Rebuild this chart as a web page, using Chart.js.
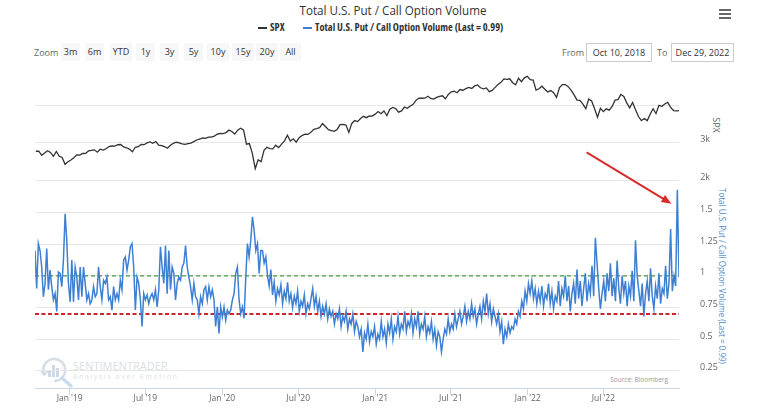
<!DOCTYPE html>
<html>
<head>
<meta charset="utf-8">
<script src="https://cdn.jsdelivr.net/npm/chart.js@4.4.1/dist/chart.umd.min.js"></script>
<style>
  html, body { margin: 0; padding: 0; background: #fff; }
  #wrap { position: relative; width: 758px; height: 415px; overflow: hidden; font-family: "Open Sans", sans-serif; }
  #chart { position: absolute; left: 0; top: 0; z-index: 2; }
  .abs { position: absolute; white-space: nowrap; }
  .cond { font-family: "Open Sans", "Liberation Sans Narrow", "DejaVu Sans Condensed", sans-serif; font-stretch: 87.5%; }
  .btn { position: absolute; top: 43px; height: 18px; line-height: 18px; background: #f7f7f7; color: #333; font-size: 9px; text-align: center; }
  .box { position: absolute; top: 43px; height: 17px; line-height: 17px; border: 1px solid #ccc; color: #333; font-size: 9px; text-align: center; }
  .bar { position: absolute; left: 719px; width: 12px; height: 2px; background: #666; }
  .vtitle { position: absolute; writing-mode: vertical-rl; white-space: nowrap; }
</style>
</head>
<body>
<div id="wrap">
  <div id="mainTitle" class="abs" style="left:393px; top:2px; transform:translateX(-50%); font-size:12.5px; color:#333;">Total U.S. Put / Call Option Volume</div>

  <!-- legende -->
  <div class="abs" style="left:258px; top:27px; width:9px; height:2px; background:#333;"></div>
  <div class="abs cond" style="left:270px; top:20px; font-size:10.4px; font-weight:bold; color:#333;">SPX</div>
  <div class="abs" style="left:303px; top:27px; width:9px; height:2px; background:#3d80d3;"></div>
  <div class="abs cond" style="left:315px; top:20px; font-size:10.4px; font-weight:bold; color:#333;">Total U.S. Put / Call Option Volume (Last = 0.99)</div>

  <div class="bar" style="top:9px;"></div>
  <div class="bar" style="top:13px;"></div>
  <div class="bar" style="top:17px;"></div>

  <!-- barre de zoom -->
  <div class="abs" style="left:34px; top:46px; font-size:9px; color:#666;">Zoom</div>
  <div id="zoomBtns"></div>
  <div class="abs" style="left:562px; top:46px; font-size:9px; color:#666;">From</div>
  <div class="box" style="left:586px; width:64px;">Oct 10, 2018</div>
  <div class="abs" style="left:657px; top:46px; font-size:9px; color:#666;">To</div>
  <div class="box" style="left:671px; width:61px;">Dec 29, 2022</div>

  <!-- filigrane -->
  <svg class="abs" style="left:40px; top:356px;" width="36" height="32" viewBox="0 0 36 32">
    <path d="M4 18 A11 11 0 1 1 14 25" fill="none" stroke="#d6dde4" stroke-width="2.5"/>
    <path d="M1 15 L4 19 L8 15" fill="none" stroke="#d6dde4" stroke-width="2"/>
    <rect x="8" y="14" width="3" height="7" fill="#cfd9e3"/>
    <rect x="12" y="9" width="3" height="12" fill="#cfd9e3"/>
    <rect x="16" y="12" width="3" height="9" fill="#cfd9e3"/>
    <line x1="22" y1="22" x2="31" y2="30" stroke="#c8dcee" stroke-width="3.5" stroke-linecap="round"/>
  </svg>
  <div class="abs" style="left:73px; top:358px; font-size:11px; color:#d8dfe6;">SENTIMENTRADER</div>
  <div class="abs" style="left:73px; top:372px; font-size:7px; color:#dbe2e9; letter-spacing:1.6px;">Analysis over Emotion</div>
  <div class="abs" style="left:668px; top:375px; transform:translateX(-100%); font-size:6.5px; color:#999;">Source: Bloomberg</div>

  <!-- titres des axes -->
  <div class="vtitle" style="left:716px; top:125px; transform:translate(-50%, -50%); font-size:9px; color:#666;">SPX</div>
  <div id="pcTitle" class="vtitle" style="left:722px; top:276px; transform:translate(-50%, -50%); font-size:9.5px; color:#4f87c4;">Total U.S. Put / Call Option Volume (Last = 0.99)</div>

  <canvas id="chart" width="758" height="415"></canvas>
</div>

<script>
// Donnees
const zoomLabels = ['3m', '6m', 'YTD', '1y', '3y', '5y', '10y', '15y', '20y', 'All'];
const xTickDates = [[2019, 1, 1], [2019, 7, 1], [2020, 1, 1], [2020, 7, 1], [2021, 1, 1], [2021, 7, 1], [2022, 1, 1], [2022, 7, 1]];
const xTickLabels = ["Jan '19", "Jul '19", "Jan '20", "Jul '20", "Jan '21", "Jul '21", "Jan '22", "Jul '22"];
const spxTicks = [2000, 3000, 4000];
const spxTickLabels = ['2k', '3k', ''];
const pcTicks = [0.25, 0.5, 0.75, 1, 1.25, 1.5];
const pcTickLabels = ['0.25', '0.5', '0.75', '1', '1.25', '1.5'];
const greenLevel = 1.0;
const redLevel = 0.70;

// SPX, cloture hebdo (vendredis) du 12 oct 2018 au 29 dec 2022
const spx2018 = [2767, 2768, 2659, 2723, 2781, 2736, 2633, 2760, 2633, 2600, 2417, 2486];
const spx2019 = [2532, 2596, 2671, 2665, 2707, 2708, 2776, 2793, 2804, 2743, 2822, 2800, 2834,
  2893, 2907, 2905, 2940, 2946, 2881, 2860, 2826, 2752, 2873, 2887, 2950, 2942,
  2990, 3014, 2977, 3026, 2932, 2919, 2889, 2847, 2926, 2979, 3007, 2992, 2962,
  2952, 2970, 2986, 3023, 3067, 3093, 3120, 3110, 3141, 3146, 3169, 3221, 3240];
const spx2020 = [3235, 3265, 3330, 3295, 3226, 3328, 3380, 3338, 2954, 2972, 2711, 2305, 2541,
  2489, 2790, 2875, 2837, 2831, 2930, 2864, 2955, 3044, 3194, 3041, 3098, 3009,
  3130, 3185, 3225, 3216, 3271, 3351, 3373, 3397, 3508, 3427, 3341, 3319, 3298,
  3348, 3477, 3483, 3465, 3270, 3509, 3585, 3557, 3638, 3699, 3663, 3709, 3703];
const spx2021 = [3756, 3825, 3768, 3841, 3714, 3887, 3934, 3907, 3811, 3842, 3943, 3913, 3975,
  4020, 4129, 4185, 4180, 4181, 4233, 4174, 4156, 4204, 4230, 4247, 4166, 4281,
  4352, 4370, 4327, 4412, 4395, 4437, 4468, 4442, 4509, 4535, 4459, 4433, 4455,
  4357, 4391, 4471, 4545, 4605, 4697, 4682, 4698, 4595, 4538, 4712, 4620, 4725, 4766];
const spx2022 = [4677, 4663, 4398, 4432, 4501, 4419, 4349, 4385, 4329, 4204, 4463, 4543,
  4546, 4488, 4392, 4272, 4132, 4123, 4024, 3901, 4158, 4109, 3901, 3675, 3912,
  3825, 3899, 3863, 3962, 4130, 4145, 4280, 4228, 4058, 3924, 4067, 3873, 3693, 3586,
  3640, 3583, 3753, 3901, 3771, 3993, 3965, 4026, 4072, 3934, 3852, 3845, 3849];

// Put/Call, un point tous les ~4 jours du 10 oct 2018 au 29 dec 2022
const pcPart1 = [1.20, 0.90, 1.255, 1.20, 1.07, 0.835, 0.94, 1.215, 0.89, 1.045,
  0.915, 0.81, 0.86, 0.72, 1.03, 1.02, 0.915, 1.125, 1.49, 1.28,
  0.94, 0.795, 1.125, 0.795, 1.07, 0.99, 0.81, 1.07, 0.835, 1.07,
  0.94, 0.81, 0.86, 0.78, 0.81, 0.915, 0.835, 0.86, 1.07, 0.915,
  0.81, 0.965, 0.94, 0.99, 0.81, 0.835, 0.73, 0.915, 0.81, 0.86,
  0.81, 0.965, 0.89, 1.125, 1.15, 1.045, 1.125, 1.23, 1.255, 1.07,
  0.73, 0.99, 0.94, 0.81, 0.60, 0.86, 0.81, 0.85, 0.78, 0.835];
const pcPart2 = [0.86, 0.81, 0.89, 0.755, 0.89, 1.23, 1.07, 0.94, 1.24, 0.86,
  1.20, 0.89, 1.07, 1.02, 0.81, 0.94, 0.99, 0.965, 1.07, 1.10,
  1.24, 1.07, 0.99, 0.915, 0.81, 0.94, 0.835, 0.81, 0.70, 0.835,
  0.78, 0.89, 0.915, 0.81, 0.915, 0.835, 0.89, 0.81, 0.60, 0.755,
  0.545, 0.755, 0.675, 0.755, 0.65, 0.73, 0.70, 0.73, 0.81, 0.86,
  1.02, 1.07, 0.81, 0.70, 0.755, 0.665, 0.99, 1.255, 1.15, 1.28,
  1.465, 1.36, 1.20, 1.255, 1.02, 1.20];
const pcPart3 = [1.20, 1.10, 1.15, 1.00, 0.92, 1.05, 0.85, 0.95, 0.80, 0.90,
  0.85, 0.93, 0.78, 0.88, 0.82, 0.95, 0.80, 0.86, 0.75, 0.84,
  0.78, 0.88, 0.72, 0.80, 0.76, 0.85, 0.70, 0.78, 0.74, 0.82,
  0.90, 0.76, 0.84, 0.72, 0.80, 0.68, 0.76, 0.70, 0.78, 0.66,
  0.74, 0.68, 0.72, 0.62, 0.70, 0.66, 0.74, 0.60, 0.68, 0.64,
  0.72, 0.58, 0.66, 0.62, 0.70, 0.56, 0.64, 0.60, 0.52, 0.58,
  0.40, 0.55, 0.50, 0.62, 0.48, 0.56, 0.52, 0.60, 0.46, 0.54,
  0.50, 0.64, 0.52, 0.58, 0.47, 0.62, 0.55, 0.66, 0.50, 0.60,
  0.56, 0.68, 0.54, 0.62, 0.58, 0.72, 0.56, 0.64, 0.60, 0.70,
  0.55, 0.66, 0.60, 0.72, 0.54, 0.62, 0.58, 0.68, 0.52, 0.60,
  0.55, 0.64, 0.50, 0.58, 0.45, 0.56, 0.52, 0.40, 0.50, 0.58,
  0.54, 0.66, 0.56, 0.62, 0.58, 0.70, 0.60, 0.66, 0.72, 0.62,
  0.68, 0.76, 0.64, 0.72, 0.66, 0.78, 0.68, 0.74, 0.62, 0.70];
const pcPart4 = [0.76, 0.66, 0.80, 0.72, 0.86, 0.70, 0.78, 0.64, 0.74, 0.68,
  0.62, 0.70, 0.56, 0.64, 0.46, 0.58, 0.52, 0.62, 0.55, 0.60,
  0.58, 0.66, 0.62, 0.72, 0.68, 0.80, 0.74, 0.88, 0.80, 0.94,
  0.86, 0.96, 0.82, 0.90, 0.78, 0.88, 0.80, 0.92, 0.76, 0.86,
  0.82, 0.94, 0.78, 0.88, 0.74, 0.84, 0.80, 0.96, 0.76, 0.90,
  0.84, 1.00, 0.80, 0.92, 0.72, 0.86, 0.94, 0.78, 1.05, 0.82,
  0.96, 0.76, 0.90, 1.02, 0.80, 0.94, 0.86, 1.08, 0.84, 1.30,
  1.10, 0.90, 0.74, 0.86, 0.96, 0.80, 1.02, 0.88, 1.10, 0.84,
  0.98, 0.80, 1.12, 0.90, 0.78, 1.00, 0.86, 0.96, 0.76, 0.92,
  0.84, 1.04, 0.80, 1.28, 1.00, 0.88, 0.76, 0.94, 0.68, 0.86,
  0.96, 0.80, 1.06, 0.84, 0.74, 0.92, 0.82, 1.02, 0.78, 0.90,
  0.86, 1.08, 0.82, 0.94, 1.37, 0.88, 1.00, 0.92, 1.68, 0.99];

// fleche rouge (annotation), en jours / valeur put-call
const arrowFrom = [1320, 1.975];
const arrowTo = [1523, 1.57];

// Conversion des dates en jours depuis le 10 oct 2018
const startUTC = Date.UTC(2018, 9, 10);
function dayOf(y, m, d) {
  return (Date.UTC(y, m - 1, d) - startUTC) / 864e5;
}
const lastDay = dayOf(2022, 12, 29);
const xTickDays = xTickDates.map(d => dayOf(d[0], d[1], d[2]));

const spxValues = [].concat(spx2018, spx2019, spx2020, spx2021, spx2022);
const spxFirst = dayOf(2018, 10, 12);
const spxData = spxValues.map((v, i) => ({ x: Math.min(spxFirst + 7 * i, lastDay), y: v }));

const pcValues = [].concat(pcPart1, pcPart2, pcPart3, pcPart4);
const pcData = pcValues.map((v, i) => ({ x: i * lastDay / (pcValues.length - 1), y: v }));

// Boutons de zoom
const zoomLefts = [61, 85, 110, 136, 160, 184, 207, 232, 256, 280];
const zoomWidths = [19, 19, 22, 19, 19, 19, 22, 22, 22, 21];
const btnBox = document.getElementById('zoomBtns');
zoomLabels.forEach((label, i) => {
  const b = document.createElement('div');
  b.className = 'btn';
  b.style.left = zoomLefts[i] + 'px';
  b.style.width = zoomWidths[i] + 'px';
  b.textContent = label;
  btnBox.appendChild(b);
});

// Ajuste la longueur d'un texte (police plus etroite que les polices dispo)
function fitText(id, target, vertical) {
  const el = document.getElementById(id);
  const r = el.getBoundingClientRect();
  const k = target / (vertical ? r.height : r.width);
  el.style.transform += vertical ? ` scaleY(${k})` : ` scaleX(${k})`;
}
fitText('mainTitle', 187, false);
fitText('pcTitle', 176, true);

// Plugin pour la fleche rouge
const arrowPlugin = {
  id: 'arrow',
  afterDatasetsDraw(chart) {
    const x = chart.scales.x;
    const y = chart.scales.pc;
    const x1 = x.getPixelForValue(arrowFrom[0]);
    const y1 = y.getPixelForValue(arrowFrom[1]);
    const x2 = x.getPixelForValue(arrowTo[0]);
    const y2 = y.getPixelForValue(arrowTo[1]);
    const a = Math.atan2(y2 - y1, x2 - x1);
    const ctx = chart.ctx;
    ctx.save();
    ctx.strokeStyle = '#d92b2b';
    ctx.fillStyle = '#d92b2b';
    ctx.lineWidth = 2;
    ctx.beginPath();
    ctx.moveTo(x1, y1);
    ctx.lineTo(x2 - 6 * Math.cos(a), y2 - 6 * Math.sin(a));
    ctx.stroke();
    ctx.beginPath();
    ctx.moveTo(x2, y2);
    ctx.lineTo(x2 - 10 * Math.cos(a) + 4 * Math.sin(a), y2 - 10 * Math.sin(a) - 4 * Math.cos(a));
    ctx.lineTo(x2 - 10 * Math.cos(a) - 4 * Math.sin(a), y2 - 10 * Math.sin(a) + 4 * Math.cos(a));
    ctx.closePath();
    ctx.fill();
    ctx.restore();
  }
};

const tickFont = { family: 'Open Sans', size: 9 };

// pas de marge automatique des axes : la zone de trace reste fixe
function noPadding(s) {
  s.paddingTop = 0;
  s.paddingBottom = 0;
  s.paddingLeft = 0;
  s.paddingRight = 0;
}

new Chart(document.getElementById('chart'), {
  type: 'line',
  data: {
    datasets: [
      {
        label: 'SPX',
        data: spxData,
        yAxisID: 'spx',
        borderColor: '#333',
        borderWidth: 1.3,
        pointRadius: 0,
        tension: 0
      },
      {
        label: 'Total U.S. Put / Call Option Volume',
        data: pcData,
        yAxisID: 'pc',
        borderColor: '#3d80d3',
        borderWidth: 1.5,
        pointRadius: 0,
        tension: 0
      },
      {
        data: [{ x: 0, y: greenLevel }, { x: lastDay, y: greenLevel }],
        yAxisID: 'pc',
        borderColor: '#4a9a3a',
        borderWidth: 1.3,
        borderDash: [4, 3],
        pointRadius: 0
      },
      {
        data: [{ x: 0, y: redLevel }, { x: lastDay, y: redLevel }],
        yAxisID: 'pc',
        borderColor: '#c8282d',
        borderWidth: 2,
        borderDash: [4, 2.5],
        pointRadius: 0
      }
    ]
  },
  options: {
    responsive: false,
    animation: false,
    layout: { padding: { left: 35, top: 62, right: 0, bottom: 0 } },
    plugins: {
      legend: { display: false },
      tooltip: { enabled: false }
    },
    scales: {
      x: {
        type: 'linear',
        min: 0,
        max: lastDay,
        afterBuildTicks: s => { s.ticks = xTickDays.map(v => ({ value: v })); },
        afterFit: s => { s.height = 27; noPadding(s); },
        ticks: {
          callback: (v, i) => xTickLabels[i],
          autoSkip: false,
          maxRotation: 0,
          padding: -2,
          color: '#666',
          font: { family: 'Open Sans', size: 8.5 }
        },
        grid: { drawOnChartArea: false, drawTicks: true, tickLength: 7, color: '#ccd6eb' },
        border: { color: '#ccd6eb' }
      },
      // axe SPX sans largeur : labels en miroir pour ne pas etre coupes
      spx: {
        type: 'linear',
        position: 'right',
        weight: 0,
        min: -3547,
        max: 5147,
        afterBuildTicks: s => { s.ticks = spxTicks.map(v => ({ value: v })); },
        afterFit: s => { s.width = 0; noPadding(s); },
        ticks: {
          callback: v => spxTickLabels[spxTicks.indexOf(v)],
          mirror: true,
          padding: 31,
          labelOffset: -3,
          color: '#666',
          font: tickFont
        },
        grid: { color: '#e6e6e6', drawTicks: false },
        border: { display: false }
      },
      pc: {
        type: 'linear',
        position: 'right',
        weight: 1,
        min: 0.115,
        max: 2.688,
        afterBuildTicks: s => { s.ticks = pcTicks.map(v => ({ value: v })); },
        afterFit: s => { s.width = 79; noPadding(s); },
        ticks: {
          callback: v => pcTickLabels[pcTicks.indexOf(v)],
          padding: 3,
          labelOffset: -3,
          color: '#666',
          font: tickFont
        },
        grid: { color: '#e6e6e6', tickLength: 18, tickColor: 'rgba(0,0,0,0)' },
        border: { display: false }
      }
    }
  },
  plugins: [arrowPlugin]
});
</script>
</body>
</html>
